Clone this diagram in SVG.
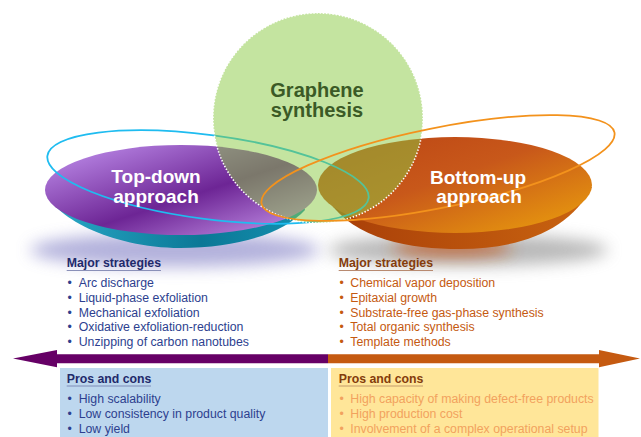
<svg xmlns="http://www.w3.org/2000/svg" width="641" height="437" viewBox="0 0 641 437">
<defs>
<style>
text{font-family:"Liberation Sans",Arial,sans-serif}
.title{font-size:20px;font-weight:bold;fill:#3b5a26;text-anchor:middle}
.dish{font-size:19px;font-weight:bold;fill:#ffffff;text-anchor:middle}
.hd{font-size:12.3px;font-weight:bold}
.it{font-size:12.3px}
.navy{fill:#1f2a6b}
.blue{fill:#2d3f8f}
.brown{fill:#843c0c}
.orng{fill:#c55a11}
.lorng{fill:#f2a25e}
</style>
<linearGradient id="gPurple" x1="0" y1="0" x2="1" y2="1">
<stop offset="0" stop-color="#c596f2"/>
<stop offset="0.55" stop-color="#6d2595"/>
<stop offset="1" stop-color="#cc9cf0"/>
</linearGradient>
<linearGradient id="gTeal" x1="0" y1="0" x2="1" y2="0">
<stop offset="0" stop-color="#2aa9c8"/>
<stop offset="0.6" stop-color="#0b7896"/>
<stop offset="1" stop-color="#1590b0"/>
</linearGradient>
<linearGradient id="gOrange" x1="0" y1="0" x2="1" y2="1">
<stop offset="0" stop-color="#bb4414"/>
<stop offset="0.45" stop-color="#c8581a"/>
<stop offset="1" stop-color="#eca20c"/>
</linearGradient>
<linearGradient id="gOrSide" x1="0" y1="0" x2="1" y2="0">
<stop offset="0" stop-color="#a83e08"/>
<stop offset="1" stop-color="#c96410"/>
</linearGradient>
<filter id="blur" x="-30%" y="-100%" width="160%" height="300%">
<feGaussianBlur stdDeviation="8"/>
</filter>
</defs>
<rect width="641" height="437" fill="#ffffff"/>

<g id="shadows">
<ellipse cx="175" cy="250" rx="145" ry="17" fill="#9a98d0" opacity="0.75" filter="url(#blur)"/>
<ellipse cx="468" cy="250" rx="140" ry="16" fill="#8a8a8a" opacity="0.6" filter="url(#blur)"/>
<ellipse cx="452" cy="248" rx="60" ry="8" fill="#c2561a" opacity="0.8" filter="url(#blur)"/>
</g>

<g id="top-down">
<path d="M46 190 C50 215 110 248 180 248 C240 248 285 232 305 210 L300 190 Z" fill="url(#gTeal)"/>
<ellipse cx="181" cy="190" rx="136" ry="45" fill="url(#gPurple)"/>
</g>

<g id="bottom-up">
<path d="M328 200 C355 240 410 249 460 249 C520 249 570 230 592 187 Z" fill="url(#gOrSide)"/>
<ellipse cx="455" cy="185" rx="137" ry="48" fill="url(#gOrange)"/>
</g>

<g id="rings">
<ellipse cx="208" cy="177" rx="162" ry="42" transform="rotate(7.5 208 177)" fill="none" stroke="#1fbcf0" stroke-width="1.8"/>
</g>

<g id="graphene">
<circle cx="318" cy="118" r="105" fill="rgb(137,201,65)" fill-opacity="0.5" stroke="#ffffff" stroke-width="1.6" stroke-dasharray="1.4 1.8"/>
<text class="title" x="317" y="97">Graphene</text>
<text class="title" x="317" y="117">synthesis</text>
</g>

<g id="ring-orange">
<ellipse cx="438" cy="168" rx="180" ry="40" transform="rotate(-11.4 438 168)" fill="none" stroke="#f3921c" stroke-width="1.8"/>
</g>

<g id="dish-labels">
<text class="dish" x="156" y="183">Top-down</text>
<text class="dish" x="156" y="203">approach</text>
<text class="dish" x="478" y="184">Bottom-up</text>
<text class="dish" x="479" y="203">approach</text>
</g>

<g id="connectors">
<polygon points="13,358.5 57,350 57,354.3 328,354.3 328,363.3 57,363.3 57,367.3" fill="#660066"/>
<polygon points="328,354.3 599,354.3 599,350 640,358.5 599,367.3 599,363.3 328,363.3" fill="#c55a11"/>
</g>

<g id="topdown-strategies">
<text class="hd navy" x="66.7" y="267">Major strategies</text>
<line x1="66.7" y1="270.5" x2="161" y2="270.5" stroke="#8a90b8" stroke-width="1"/>
<text class="it blue" x="67.5" y="287">•</text><text class="it blue" x="78.7" y="287">Arc discharge</text>
<text class="it blue" x="67.5" y="302">•</text><text class="it blue" x="78.7" y="302">Liquid-phase exfoliation</text>
<text class="it blue" x="67.5" y="316.5">•</text><text class="it blue" x="78.7" y="316.5">Mechanical exfoliation</text>
<text class="it blue" x="67.5" y="331">•</text><text class="it blue" x="78.7" y="331">Oxidative exfoliation-reduction</text>
<text class="it blue" x="67.5" y="346">•</text><text class="it blue" x="78.7" y="346">Unzipping of carbon nanotubes</text>
</g>

<g id="bottomup-strategies">
<text class="hd brown" x="338.7" y="267">Major strategies</text>
<line x1="338.7" y1="270.5" x2="433" y2="270.5" stroke="#b88a70" stroke-width="1"/>
<text class="it orng" x="339.5" y="287">•</text><text class="it orng" x="350.3" y="287">Chemical vapor deposition</text>
<text class="it orng" x="339.5" y="302">•</text><text class="it orng" x="350.3" y="302">Epitaxial growth</text>
<text class="it orng" x="339.5" y="316.5">•</text><text class="it orng" x="350.3" y="316.5">Substrate-free gas-phase synthesis</text>
<text class="it orng" x="339.5" y="331">•</text><text class="it orng" x="350.3" y="331">Total organic synthesis</text>
<text class="it orng" x="339.5" y="346">•</text><text class="it orng" x="350.3" y="346">Template methods</text>
</g>

<g id="topdown-pros">
<rect x="60" y="368" width="268" height="69" fill="#bdd7ee"/>
<text class="hd navy" x="66.7" y="383">Pros and cons</text>
<line x1="66.7" y1="386" x2="151" y2="386" stroke="#7f8cb8" stroke-width="1"/>
<text class="it blue" x="67.5" y="403">•</text><text class="it blue" x="78.7" y="403">High scalability</text>
<text class="it blue" x="67.5" y="418">•</text><text class="it blue" x="78.7" y="418">Low consistency in product quality</text>
<text class="it blue" x="67.5" y="433">•</text><text class="it blue" x="78.7" y="433">Low yield</text>
</g>

<g id="bottomup-pros">
<rect x="331" y="368" width="267.5" height="69" fill="#ffe699"/>
<text class="hd brown" x="338.7" y="383">Pros and cons</text>
<line x1="338.7" y1="386" x2="423" y2="386" stroke="#c49a6a" stroke-width="1"/>
<text class="it lorng" x="339.5" y="403">•</text><text class="it lorng" x="350.3" y="403">High capacity of making defect-free products</text>
<text class="it lorng" x="339.5" y="418">•</text><text class="it lorng" x="350.3" y="418">High production cost</text>
<text class="it lorng" x="339.5" y="433">•</text><text class="it lorng" x="350.3" y="433">Involvement of a complex operational setup</text>
</g>
</svg>
